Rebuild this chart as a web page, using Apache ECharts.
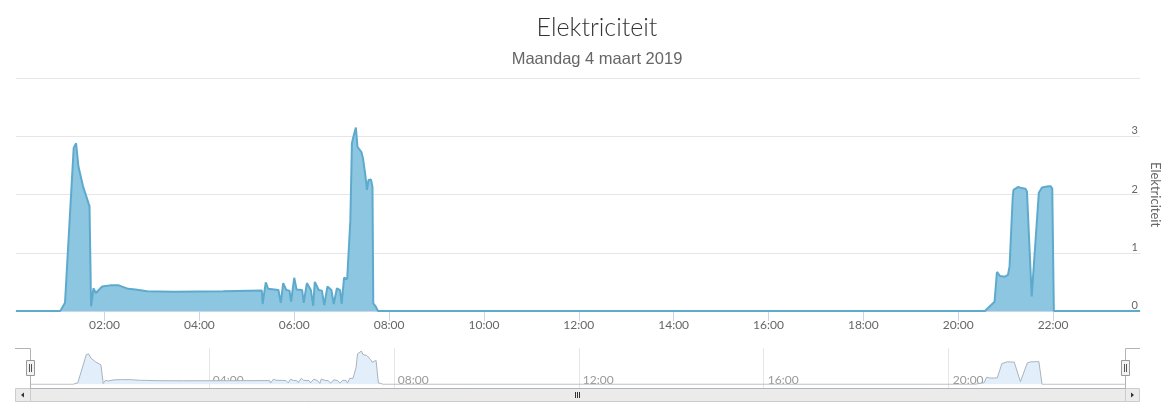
<!DOCTYPE html>
<html><head><meta charset="utf-8">
<script src="https://cdn.jsdelivr.net/npm/echarts@6/dist/echarts.min.js"></script>
<style>html,body{margin:0;padding:0;background:#fff}#c{width:1168px;height:415px}</style>
</head><body><div id="c"></div>
<script>
const titleText = 'Elektriciteit';
const subtitleText = 'Maandag 4 maart 2019';
const yAxisName = 'Elektriciteit';

const times = ['00:08','01:04','01:10','01:21','01:24','01:27','01:33','01:40','01:41','01:43','01:46','01:49','01:57',
  '02:07','02:18','02:24','02:30','02:39','02:54','03:27','04:30','05:19','05:20','05:24','05:27','05:40','05:43','05:46',
  '05:50','05:54','05:56','06:00','06:03','06:10','06:12','06:16','06:21','06:24','06:26','06:31','06:35','06:38','06:42',
  '06:47','06:50','06:54','06:58','07:00','07:03','07:07','07:11','07:13','07:15','07:18','07:20','07:25','07:27','07:30',
  '07:32','07:34','07:37','07:39','07:40','07:43','07:46','20:34','20:39','20:46','20:49','20:53','20:59','21:03','21:05',
  '21:09','21:10','21:16','21:20','21:25','21:27','21:33','21:42','21:46','21:54','21:57','21:59','22:01','23:50'];
const values = [0,0,0.14,2.80,2.88,2.48,2.13,1.84,1.80,0.08,0.39,0.31,0.42,
  0.44,0.44,0.41,0.38,0.37,0.34,0.33,0.34,0.35,0.12,0.49,0.38,0.36,0.14,0.48,
  0.36,0.35,0.16,0.57,0.37,0.36,0.14,0.48,0.36,0.09,0.50,0.36,0.35,0.10,0.42,
  0.36,0.12,0.39,0.36,0.12,0.57,0.55,1.56,2.88,3.00,3.15,2.82,2.73,2.62,2.33,
  2.08,2.25,2.26,2.13,0.13,0.08,0,0,0.07,0.16,0.67,0.60,0.59,0.62,0.77,
  1.96,2.08,2.13,2.11,2.10,2.05,0.25,2.03,2.12,2.14,2.14,2.10,0,0];

const mainTickHours = [2,4,6,8,10,12,14,16,18,20,22];
const navTickHours = [4,8,12,16,20];
const yTicks = [0,1,2,3,4];

const toHour = t => { const p = t.split(':').map(Number); return p[0] + p[1] / 60; };
const data = times.map((t, i) => [toHour(t), values[i]]);
const xMin = toHour(times[0]);
const xMax = toHour(times[times.length - 1]);
const fmt = v => String(Math.round(v)).padStart(2, '0') + ':00';

const chart = echarts.init(document.getElementById('c'), null, {renderer: 'canvas'});
const option = {
  animation: false,
  backgroundColor: '#fff',
  title: [
    {text: titleText, left: 592, textAlign: 'center', top: 10,
     textStyle: {fontFamily: 'Lato', fontWeight: 300, fontSize: 25, color: '#333'}},
    {text: subtitleText, left: 592, textAlign: 'center', top: 46,
     textStyle: {fontFamily: 'Liberation Sans, Arial', fontWeight: 'normal', fontSize: 16.5, color: '#666'}}
  ],
  grid: [
    {left: 16, right: 28, top: 78, bottom: 104, outerBoundsMode: 'none', containLabel: false},
    {left: 30, right: 42, top: 348, bottom: 27, outerBoundsMode: 'none', containLabel: false},
    {left: 30, right: 42, top: 351, bottom: 30.7, outerBoundsMode: 'none', containLabel: false}
  ],
  xAxis: [
    {gridIndex: 0, type: 'value', min: xMin, max: xMax,
     axisLine: {lineStyle: {color: '#ccd6eb', width: 1}},
     axisTick: {customValues: mainTickHours, length: 10, lineStyle: {color: '#ccd6eb'}},
     axisLabel: {customValues: mainTickHours, formatter: fmt, color: '#666', fontSize: 12, margin: 8, fontFamily: 'Lato'},
     splitLine: {show: false}},
    {gridIndex: 1, type: 'value', min: xMin, max: xMax,
     axisLine: {show: false},
     axisTick: {show: false, customValues: navTickHours},
     axisLabel: {customValues: navTickHours, formatter: fmt, inside: true, margin: 2, align: 'left',
                 padding: [0, 0, 0, 4], color: '#999', fontSize: 12, fontFamily: 'Lato'},
     splitLine: {show: true, lineStyle: {color: '#e6e6e6', width: 1}}},
    {gridIndex: 2, type: 'value', min: xMin, max: xMax, show: false}
  ],
  yAxis: [
    {gridIndex: 0, type: 'value', position: 'right', min: yTicks[0], max: yTicks[yTicks.length - 1], interval: 1,
     name: yAxisName, nameLocation: 'middle', nameRotate: -90, nameGap: 9,
     nameTextStyle: {color: '#666', fontSize: 13, fontFamily: 'Lato'},
     axisLine: {show: false}, axisTick: {show: false},
     axisLabel: {inside: true, margin: 2, showMaxLabel: false, verticalAlign: 'bottom',
                 color: '#666', fontSize: 11, fontFamily: 'Lato'},
     splitLine: {lineStyle: {color: '#e6e6e6'}}},
    {gridIndex: 1, type: 'value', min: 0, max: 1, show: false},
    {gridIndex: 2, type: 'value', min: 0, max: 'dataMax', show: false}
  ],
  series: [
    {type: 'line', xAxisIndex: 0, yAxisIndex: 0, data: data, symbol: 'none', z: 3,
     lineStyle: {color: '#5eaacd', width: 2}, itemStyle: {color: '#5eaacd'},
     areaStyle: {color: '#8dc6e0', opacity: 1}},
    {type: 'line', xAxisIndex: 2, yAxisIndex: 2, data: data, symbol: 'none',
     lineStyle: {color: '#a8b3bd', width: 1}, itemStyle: {color: '#a8b3bd'},
     areaStyle: {color: '#e2effa', opacity: 1}}
  ],
  graphic: [
    {type: 'rect', z: 10, shape: {x: 30.5, y: 388.5, width: 1095, height: 13}, style: {fill: '#ebebeb', stroke: '#cccccc', lineWidth: 1}},
    {type: 'rect', z: 10, shape: {x: 15.5, y: 388.5, width: 15, height: 13}, style: {fill: '#ebebeb', stroke: '#cccccc', lineWidth: 1}},
    {type: 'rect', z: 10, shape: {x: 1125.5, y: 388.5, width: 14, height: 13}, style: {fill: '#ebebeb', stroke: '#cccccc', lineWidth: 1}},
    {type: 'polygon', z: 11, shape: {points: [[21, 395], [24, 392.5], [24, 397.5]]}, style: {fill: '#333'}},
    {type: 'polygon', z: 11, shape: {points: [[1134, 395], [1131, 392.5], [1131, 397.5]]}, style: {fill: '#333'}},
    {type: 'line', z: 11, shape: {x1: 575.5, y1: 392, x2: 575.5, y2: 398}, style: {stroke: '#333', lineWidth: 1}},
    {type: 'line', z: 11, shape: {x1: 577.5, y1: 392, x2: 577.5, y2: 398}, style: {stroke: '#333', lineWidth: 1}},
    {type: 'line', z: 11, shape: {x1: 579.5, y1: 392, x2: 579.5, y2: 398}, style: {stroke: '#333', lineWidth: 1}},
    {type: 'polyline', z: 12, shape: {points: [[15, 348.5], [30.5, 348.5], [30.5, 388.5], [1125.5, 388.5], [1125.5, 348.5], [1140, 348.5]]},
     style: {stroke: '#b3b3b3', fill: null, lineWidth: 1}},
    {type: 'rect', z: 13, shape: {x: 26.5, y: 360.5, width: 8, height: 15}, style: {fill: '#f2f2f2', stroke: '#999', lineWidth: 1}},
    {type: 'line', z: 14, shape: {x1: 29.5, y1: 364, x2: 29.5, y2: 372}, style: {stroke: '#555', lineWidth: 1}},
    {type: 'line', z: 14, shape: {x1: 31.5, y1: 364, x2: 31.5, y2: 372}, style: {stroke: '#555', lineWidth: 1}},
    {type: 'rect', z: 13, shape: {x: 1121.5, y: 360.5, width: 8, height: 15}, style: {fill: '#f2f2f2', stroke: '#999', lineWidth: 1}},
    {type: 'line', z: 14, shape: {x1: 1124.5, y1: 364, x2: 1124.5, y2: 372}, style: {stroke: '#555', lineWidth: 1}},
    {type: 'line', z: 14, shape: {x1: 1126.5, y1: 364, x2: 1126.5, y2: 372}, style: {stroke: '#555', lineWidth: 1}}
  ]
};
chart.setOption(option);
</script>
</body></html>
